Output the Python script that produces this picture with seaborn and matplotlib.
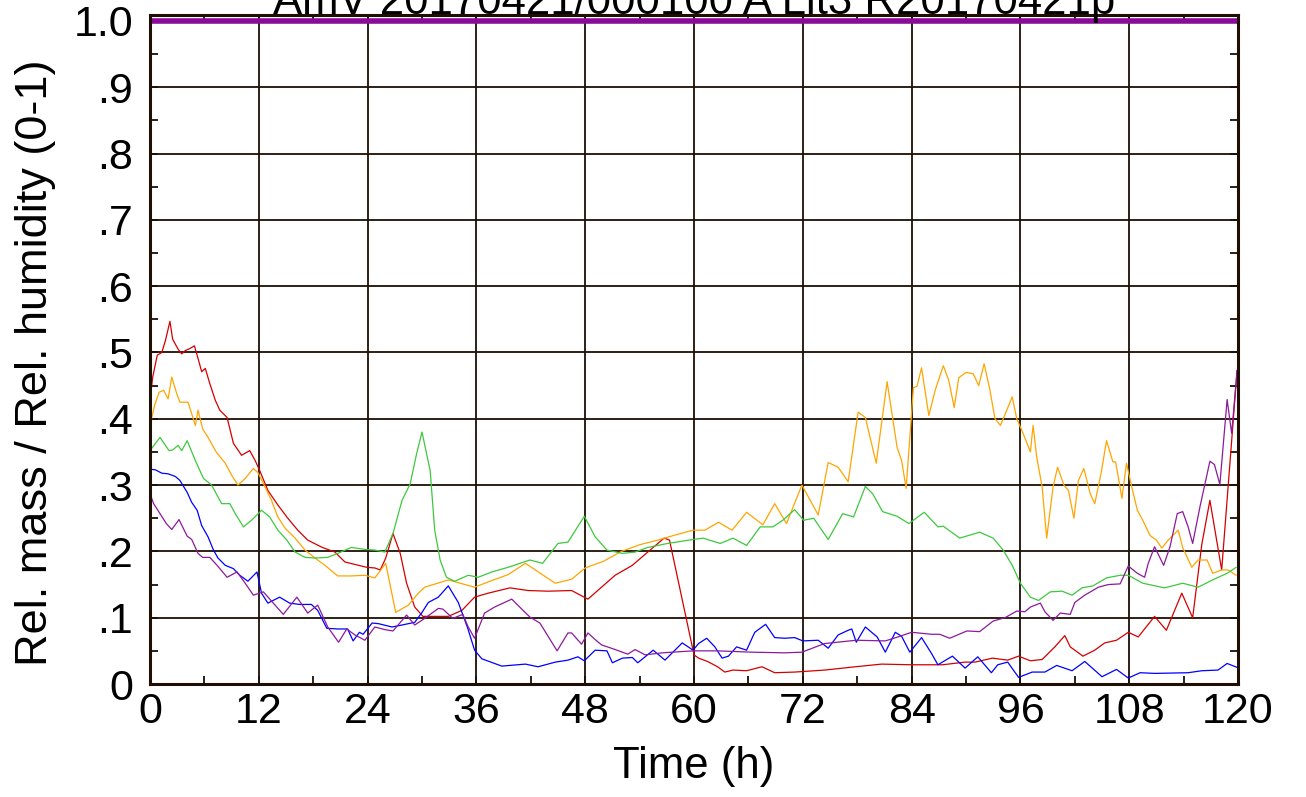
import numpy as np
import matplotlib
matplotlib.use('Agg')
import matplotlib.pyplot as plt
import seaborn as sns
from matplotlib.ticker import MultipleLocator

# Series (time in h, relative value 0-1)
t_red = [0, 0.3, 0.8, 1.3, 1.7, 2.2, 2.5, 3.1, 3.5, 3.9, 4.4, 4.9, 5.3, 5.7, 6.1, 6.6, 7.2, 7.7, 8.5, 9.2,
         10.1, 11.0, 11.6, 12.1, 13.0, 14.1, 15.2, 16.3, 17.4, 19.0, 20.4, 21.5, 23.0, 23.9, 24.8, 25.4, 26.0,
         26.8, 27.6, 28.3, 29.2, 30.1, 31.1, 32.9, 34.4, 35.8, 37.3, 39.7, 41.7, 43.9, 46.5, 48.3, 49.8, 51.3,
         53.2, 54.9, 56.7, 57.3, 60.0, 60.5, 61.5, 62.6, 63.4, 64.3, 65.8, 67.5, 68.9, 71.1, 74.4, 77.8, 80.7,
         84.0, 87.4, 89.9, 91.0, 92.9, 94.6, 95.8, 97.1, 98.4, 99.8, 100.9, 101.5, 102.9, 104.2, 105.3, 106.6,
         107.9, 109.0, 110.8, 112.1, 113.8, 115.0, 116.0, 116.9, 118.2, 119.9]
red = [0.428, 0.463, 0.496, 0.50, 0.518, 0.547, 0.52, 0.505, 0.498, 0.503, 0.506, 0.51, 0.491, 0.471, 0.476,
       0.453, 0.428, 0.413, 0.402, 0.363, 0.345, 0.352, 0.337, 0.322, 0.292, 0.27, 0.25, 0.232, 0.217, 0.206,
       0.199, 0.184, 0.179, 0.176, 0.175, 0.172, 0.19, 0.227, 0.197, 0.152, 0.116, 0.102, 0.102, 0.102, 0.111,
       0.131, 0.137, 0.145, 0.141, 0.14, 0.141, 0.128, 0.146, 0.164, 0.179, 0.199, 0.22, 0.217, 0.044, 0.039,
       0.034, 0.026, 0.018, 0.021, 0.02, 0.026, 0.017, 0.018, 0.021, 0.026, 0.03, 0.029, 0.029, 0.033, 0.033,
       0.039, 0.036, 0.042, 0.035, 0.037, 0.056, 0.073, 0.056, 0.042, 0.051, 0.062, 0.066, 0.078, 0.071, 0.102,
       0.081, 0.137, 0.10, 0.21, 0.277, 0.172, 0.473]

t_orange = [0, 0.5, 1.0, 1.5, 2.0, 2.4, 2.9, 3.3, 4.2, 5.0, 5.3, 5.8, 6.4, 7.3, 8.3, 9.0, 9.7, 10.5, 11.4, 11.9,
            12.7, 13.4, 14.1, 14.9, 16.0, 17.1, 18.2, 19.3, 20.7, 22.2, 23.7, 24.8, 26.0, 27.1, 28.5, 29.6, 30.3,
            32.9, 35.8, 37.5, 39.5, 41.4, 42.5, 44.7, 46.5, 48.0, 50.0, 52.0, 54.0, 56.0, 58.0, 59.9, 61.2, 62.7,
            64.2, 65.8, 67.6, 68.9, 70.2, 71.9, 73.7, 74.8, 75.9, 77.0, 78.1, 78.9, 80.1, 81.3, 82.4, 82.9, 83.4,
            84.2, 84.6, 85.1, 85.9, 86.6, 87.5, 88.1, 88.7, 89.2, 90.0, 90.8, 91.4, 92.0, 92.6, 93.2, 93.8, 94.5,
            95.1, 95.6, 96.3, 97.1, 97.4, 97.8, 98.4, 98.9, 99.6, 100.1, 100.8, 101.3, 101.9, 102.4, 103.0, 103.7,
            104.2, 104.9, 105.5, 106.2, 106.5, 106.8, 107.2, 107.7, 108.2, 108.9, 109.5, 110.3, 111.0, 111.6,
            112.3, 113.4, 113.9, 114.9, 115.6, 116.6, 117.2, 118.2, 118.9, 119.8]
orange = [0.39, 0.42, 0.44, 0.443, 0.43, 0.463, 0.44, 0.425, 0.425, 0.39, 0.413, 0.385, 0.372, 0.35, 0.333,
          0.315, 0.30, 0.31, 0.325, 0.319, 0.297, 0.277, 0.252, 0.235, 0.22, 0.202, 0.19, 0.179, 0.163, 0.163,
          0.164, 0.16, 0.182, 0.108, 0.119, 0.137, 0.146, 0.157, 0.146, 0.155, 0.165, 0.182, 0.172, 0.152, 0.158,
          0.175, 0.185, 0.20, 0.21, 0.217, 0.225, 0.232, 0.232, 0.244, 0.232, 0.259, 0.24, 0.272, 0.242, 0.30,
          0.255, 0.334, 0.327, 0.305, 0.41, 0.402, 0.333, 0.456, 0.357, 0.337, 0.295, 0.447, 0.449, 0.477, 0.405,
          0.443, 0.48, 0.458, 0.417, 0.462, 0.47, 0.468, 0.45, 0.483, 0.446, 0.40, 0.39, 0.413, 0.433, 0.40,
          0.378, 0.35, 0.39, 0.342, 0.297, 0.22, 0.297, 0.327, 0.30, 0.292, 0.25, 0.307, 0.325, 0.287, 0.272,
          0.318, 0.367, 0.335, 0.335, 0.312, 0.28, 0.333, 0.302, 0.262, 0.247, 0.224, 0.217, 0.205, 0.217, 0.232,
          0.206, 0.176, 0.187, 0.187, 0.167, 0.172, 0.172, 0.164]

t_green = [0, 1.1, 2.1, 2.5, 3.1, 3.5, 4.1, 5.0, 5.9, 6.8, 7.9, 8.8, 9.4, 10.3, 11.2, 12.3, 13.2, 14.1, 15.1,
           16.0, 17.1, 18.2, 19.6, 20.7, 22.2, 23.7, 24.8, 25.9, 26.8, 27.8, 28.7, 29.4, 30.0, 30.9, 31.4, 32.0,
           32.7, 33.6, 35.1, 36.2, 37.7, 39.5, 41.9, 43.3, 45.0, 46.1, 47.9, 49.1, 50.4, 52.1, 53.5, 54.9, 57.1,
           59.9, 61.0, 62.9, 64.3, 65.8, 67.3, 68.7, 69.8, 71.1, 72.1, 73.2, 74.8, 76.4, 77.6, 78.9, 79.7, 80.8,
           82.4, 83.7, 85.4, 86.9, 87.5, 89.3, 91.5, 93.0, 94.1, 95.1, 96.0, 97.1, 98.0, 99.3, 100.6, 101.7,
           102.8, 104.0, 105.5, 107.0, 107.9, 109.5, 111.9, 113.9, 115.6, 117.2, 118.8, 119.8]
green = [0.352, 0.372, 0.352, 0.353, 0.36, 0.352, 0.367, 0.337, 0.31, 0.30, 0.272, 0.272, 0.257, 0.237, 0.247,
         0.262, 0.252, 0.232, 0.217, 0.199, 0.191, 0.19, 0.191, 0.197, 0.206, 0.203, 0.202, 0.199, 0.227, 0.277,
         0.302, 0.347, 0.38, 0.322, 0.232, 0.187, 0.161, 0.155, 0.164, 0.161, 0.169, 0.176, 0.187, 0.182, 0.212,
         0.214, 0.253, 0.222, 0.202, 0.197, 0.199, 0.206, 0.212, 0.218, 0.22, 0.212, 0.22, 0.209, 0.237, 0.237,
         0.247, 0.263, 0.247, 0.25, 0.218, 0.257, 0.252, 0.298, 0.287, 0.26, 0.253, 0.242, 0.259, 0.237, 0.238,
         0.22, 0.229, 0.22, 0.202, 0.179, 0.152, 0.131, 0.126, 0.139, 0.14, 0.134, 0.145, 0.148, 0.16, 0.164,
         0.164, 0.152, 0.145, 0.152, 0.146, 0.157, 0.167, 0.176]

t_blue = [0, 0.6, 1.3, 2.0, 2.8, 3.3, 4.1, 4.6, 5.2, 5.7, 6.4, 7.0, 7.5, 8.3, 9.2, 9.9, 10.8, 11.8, 12.3, 13.0,
          14.3, 15.4, 16.5, 17.8, 18.5, 19.5, 20.7, 21.8, 22.4, 23.1, 23.5, 24.5, 25.2, 26.7, 27.8, 29.2, 30.0,
          30.7, 31.8, 32.9, 34.0, 35.0, 35.8, 36.6, 38.8, 41.4, 42.8, 44.7, 46.1, 47.2, 47.9, 49.1, 50.4, 51.0,
          52.1, 53.2, 53.8, 55.5, 56.8, 58.7, 59.9, 60.5, 61.4, 62.3, 63.1, 63.8, 64.7, 65.8, 66.7, 67.9, 68.9,
          70.0, 71.1, 72.0, 73.7, 74.8, 75.9, 77.0, 77.4, 77.9, 78.9, 80.2, 81.1, 82.2, 82.9, 83.8, 85.1, 86.2,
          86.9, 88.5, 89.9, 91.3, 92.8, 93.5, 94.6, 95.8, 97.3, 98.7, 100.0, 101.7, 103.1, 105.0, 106.6, 107.9,
          109.2, 110.8, 114.5, 116.0, 117.8, 118.8, 119.9]
blue = [0.324, 0.323, 0.318, 0.317, 0.313, 0.307, 0.289, 0.274, 0.262, 0.239, 0.222, 0.202, 0.19, 0.179, 0.174,
        0.164, 0.155, 0.169, 0.137, 0.122, 0.131, 0.122, 0.12, 0.12, 0.111, 0.084, 0.083, 0.083, 0.065, 0.078,
        0.075, 0.092, 0.091, 0.086, 0.089, 0.093, 0.108, 0.123, 0.131, 0.148, 0.123, 0.086, 0.051, 0.038, 0.027,
        0.03, 0.026, 0.033, 0.036, 0.041, 0.035, 0.051, 0.05, 0.032, 0.039, 0.04, 0.032, 0.051, 0.036, 0.062,
        0.051, 0.061, 0.069, 0.056, 0.039, 0.042, 0.056, 0.051, 0.078, 0.09, 0.07, 0.069, 0.07, 0.065, 0.066,
        0.054, 0.074, 0.081, 0.083, 0.063, 0.086, 0.071, 0.048, 0.078, 0.072, 0.048, 0.07, 0.046, 0.029, 0.042,
        0.024, 0.041, 0.017, 0.029, 0.033, 0.01, 0.018, 0.018, 0.028, 0.02, 0.034, 0.011, 0.022, 0.009, 0.017,
        0.016, 0.017, 0.02, 0.021, 0.031, 0.025]

t_purple = [0, 0.4, 1.1, 1.8, 2.4, 3.2, 4.1, 4.6, 5.3, 5.8, 6.6, 7.4, 8.5, 9.6, 10.5, 11.4, 12.5, 13.6, 14.7,
            16.2, 17.4, 18.5, 19.6, 20.8, 21.7, 22.6, 23.7, 24.8, 25.9, 26.8, 28.3, 29.2, 30.3, 31.8, 32.3, 33.4,
            34.5, 35.1, 35.8, 36.9, 38.0, 39.9, 41.0, 41.9, 43.0, 44.9, 46.1, 46.5, 47.6, 48.3, 49.1, 49.8, 51.3,
            52.7, 53.5, 54.6, 56.5, 59.9, 62.6, 66.4, 70.0, 71.9, 74.4, 77.9, 81.1, 82.5, 84.0, 86.2, 87.1, 88.2,
            90.1, 91.5, 93.0, 94.3, 95.6, 96.5, 97.1, 98.2, 98.7, 99.6, 100.4, 101.5, 102.0, 103.1, 104.6, 105.7,
            107.0, 107.9, 108.9, 109.7, 110.1, 110.8, 111.8, 112.5, 113.3, 113.9, 114.5, 115.0, 115.8, 116.9,
            117.4, 118.0, 118.8, 119.3, 119.9]
purple = [0.287, 0.272, 0.257, 0.242, 0.233, 0.248, 0.223, 0.218, 0.197, 0.191, 0.191, 0.179, 0.161, 0.169,
          0.152, 0.134, 0.139, 0.122, 0.105, 0.131, 0.107, 0.119, 0.086, 0.063, 0.083, 0.074, 0.066, 0.086, 0.082,
          0.08, 0.104, 0.089, 0.099, 0.114, 0.113, 0.099, 0.105, 0.086, 0.069, 0.107, 0.116, 0.128, 0.113, 0.101,
          0.092, 0.05, 0.077, 0.077, 0.06, 0.077, 0.067, 0.059, 0.052, 0.045, 0.052, 0.044, 0.047, 0.05, 0.05,
          0.048, 0.047, 0.048, 0.061, 0.066, 0.065, 0.071, 0.078, 0.075, 0.075, 0.069, 0.08, 0.079, 0.095, 0.10,
          0.11, 0.109, 0.116, 0.122, 0.109, 0.096, 0.107, 0.105, 0.123, 0.134, 0.146, 0.15, 0.151, 0.178, 0.167,
          0.161, 0.182, 0.207, 0.179, 0.207, 0.257, 0.26, 0.237, 0.212, 0.267, 0.336, 0.331, 0.301, 0.429, 0.378,
          0.473]

# relative humidity stays at 1.0 over the whole run
t_rh = [0, 120]
rh = [1.0, 1.0]

x_ticks = list(range(0, 121, 12))
y_ticks = [0, 0.1, 0.2, 0.3, 0.4, 0.5, 0.6, 0.7, 0.8, 0.9, 1.0]
y_ticklabels = ['0', '.1', '.2', '.3', '.4', '.5', '.6', '.7', '.8', '.9', '1.0']
title = 'AmV 20170421/000100 A Lit3 R20170421p'

sns.set_theme(style='ticks')
plt.rcParams['font.family'] = ['Liberation Sans', 'DejaVu Sans']
plt.rcParams['text.color'] = 'black'
plt.rcParams['axes.labelcolor'] = 'black'

fig = plt.figure(figsize=(13.06, 7.97), dpi=100)
# frame top sits a little above the 1.0 level
ax = fig.add_axes([150 / 1306, 1 - 684 / 797, 1088 / 1306, 669 / 797])

grid_c = '#1e0e04'
for x in x_ticks[1:-1]:
    ax.axvline(x, color=grid_c, lw=1.3, zorder=1)
for y in y_ticks[1:-1]:
    ax.axhline(y, color=grid_c, lw=1.3, zorder=1)

series = [
    (t_red, red, '#d40000'),
    (t_orange, orange, '#ffa500'),
    (t_green, green, '#3ec83e'),
    (t_blue, blue, '#0000ff'),
    (t_purple, purple, '#8c1a9c'),
]
for tt, vv, col in series:
    sns.lineplot(x=tt, y=vv, color=col, linewidth=0.9, ax=ax, estimator=None, sort=False, zorder=3)

sns.lineplot(x=t_rh, y=rh, color='#8b0a98', linewidth=4, ax=ax, estimator=None, zorder=4)

ax.set_xlim(0, 120)
ax.set_ylim(0, 669 / 663)
ax.set_xticks(x_ticks)
ax.set_xticklabels([str(v) for v in x_ticks])
ax.set_yticks(y_ticks)
ax.set_yticklabels(y_ticklabels)
ax.xaxis.set_minor_locator(MultipleLocator(6))
ax.yaxis.set_minor_locator(MultipleLocator(0.05))
ax.tick_params(which='both', direction='in', top=True, right=True, color='#1e0e04', width=1.3)
ax.tick_params(which='major', length=6, labelsize=31, colors='#1e0e04', labelcolor='black')
ax.tick_params(which='minor', length=6)
ax.tick_params(axis='y', pad=12)
ax.tick_params(axis='x', pad=6)

for s in ax.spines.values():
    s.set_color('#1e0e04')
    s.set_linewidth(2.2)
    s.set_zorder(5)

ax.set_xlabel('Time (h)', fontsize=31.5, labelpad=10, color='black')
ax.set_ylabel('Rel. mass / Rel. humidity (0-1)', fontsize=32.5, color='black')
ax.yaxis.set_label_coords(-94 / 1088, 0.48)

fig.text(694 / 1306, 1 - 14 / 797, title, ha='center', va='baseline', fontsize=31.5, color='black')

plt.savefig('out.png', dpi=100)
plt.close()
